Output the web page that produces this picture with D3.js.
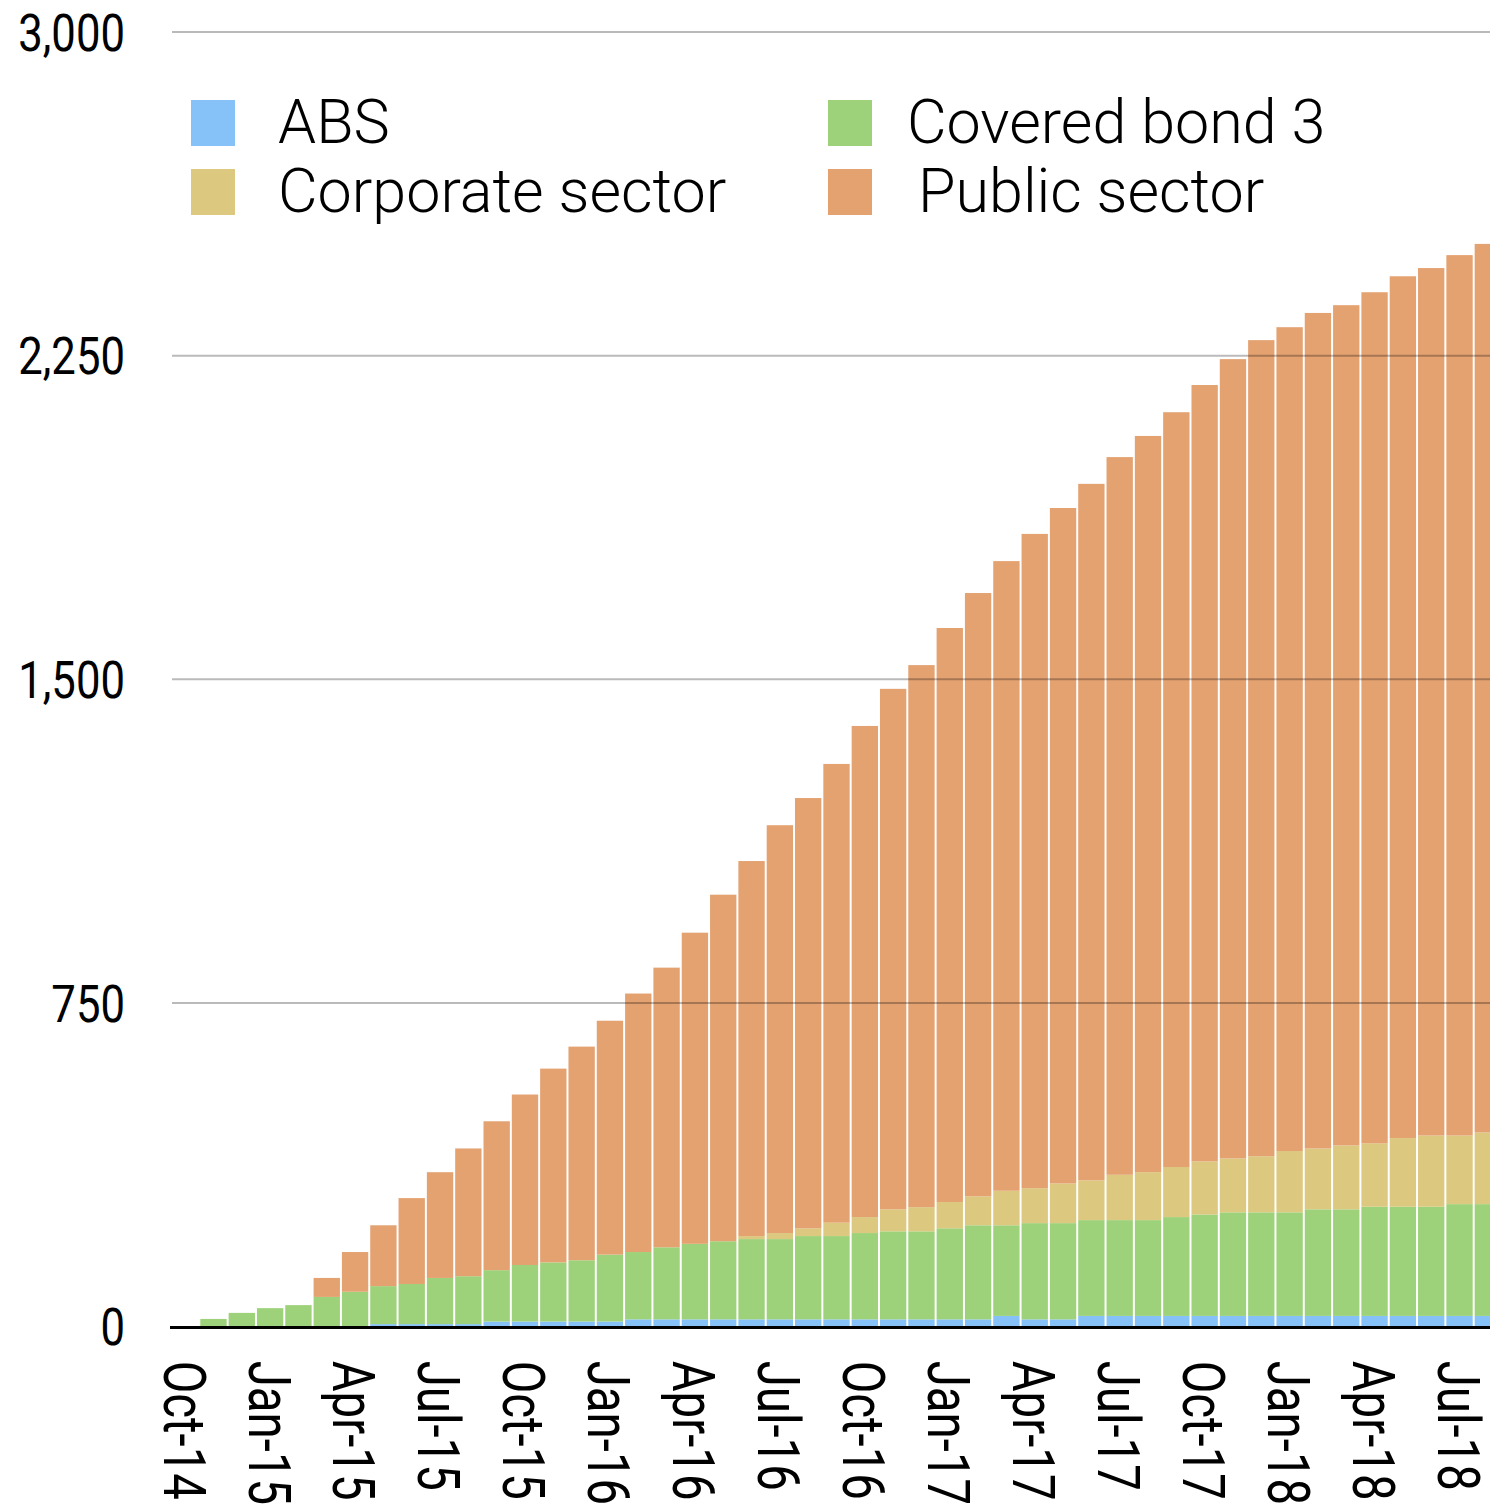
<!DOCTYPE html>
<html>
<head>
<meta charset="utf-8">
<script src="https://cdnjs.cloudflare.com/ajax/libs/d3/7.8.5/d3.min.js"></script>
<style>
body { margin: 0; background: #fff; }
svg { display: block; }
</style>
</head>
<body>
<div id="chart"></div>
<script>

var months = ["Oct-14","Nov-14","Dec-14","Jan-15","Feb-15","Mar-15","Apr-15","May-15","Jun-15","Jul-15","Aug-15","Sep-15",
	"Oct-15","Nov-15","Dec-15","Jan-16","Feb-16","Mar-16","Apr-16","May-16","Jun-16","Jul-16","Aug-16","Sep-16",
	"Oct-16","Nov-16","Dec-16","Jan-17","Feb-17","Mar-17","Apr-17","May-17","Jun-17","Jul-17","Aug-17","Sep-17",
	"Oct-17","Nov-17","Dec-17","Jan-18","Feb-18","Mar-18","Apr-18","May-18","Jun-18","Jul-18","Aug-18"]

var abs = [0,0,0,0,0,0,1,6,6,6,6,12,12,12,12,12,17,17,17,17,17,17,17,17,
	17,17,17,17,17,25,17,17,25,25,25,25,25,25,25,25,25,25,25,25,25,25,25]

var covered = [0,18,32,43,50,69,80,88,93,107,111,119,131,137,142,155,156,167,175,181,186,186,193,193,
	200,204,204,211,218,210,223,223,222,222,222,229,235,240,240,240,247,247,253,253,253,259,259]

var corporate = [0,0,0,0,0,0,0,0,0,0,0,0,0,0,0,0,0,0,0,0,7,14,18,31,
	37,51,56,61,67,80,81,92,92,105,111,116,123,125,130,142,141,148,147,159,165,159,166]

var public_sector = [0,0,0,0,0,44,92,141,199,245,296,345,395,449,495,542,599,648,721,803,869,945,997,1063,
	1138,1206,1256,1330,1398,1459,1516,1565,1614,1663,1706,1749,1799,1852,1891,1909,1936,1947,1972,1997,2010,2040,2059]

var tick_labels = ["Oct-14","Jan-15","Apr-15","Jul-15","Oct-15","Jan-16","Apr-16","Jul-16",
	"Oct-16","Jan-17","Apr-17","Jul-17","Oct-17","Jan-18","Apr-18","Jul-18"]

var y_ticks = [0, 750, 1500, 2250, 3000]

var series_names = ["ABS", "Covered bond 3", "Corporate sector", "Public sector"]
var series_colors = ["#86C1F8", "#9DD27A", "#DCC87E", "#E4A271"]


var width = 1490, height = 1508
var font = "Roboto, 'Liberation Sans', Arial, sans-serif"

var svg = d3.select("#chart")
	.append("svg")
	.attr("width", width)
	.attr("height", height)
	.style("font-family", font)

var rows = months.map(function (m, i) {
	return { month: m, "ABS": abs[i], "Covered bond 3": covered[i],
		"Corporate sector": corporate[i], "Public sector": public_sector[i] }
})

var stacked = d3.stack().keys(series_names)(rows)

// X - axis (band per month, the last one runs past the right edge)
var x_scale = d3.scaleBand()
	.domain(months)
	.range([171, 1502])
	.paddingInner(0.07)
	.paddingOuter(0.035)

// Y - axis
var y_scale = d3.scaleLinear()
	.domain([0, 3000])
	.range([1326.7, 32])

var color = d3.scaleOrdinal().domain(series_names).range(series_colors)

// bars
svg.append("g")
	.selectAll("g")
	.data(stacked)
	.enter()
	.append("g")
	.attr("fill", d => color(d.key))
	.selectAll("rect")
	.data(d => d)
	.enter()
	.append("rect")
	.attr("x", d => x_scale(d.data.month))
	.attr("width", x_scale.bandwidth())
	.attr("y", d => y_scale(d[1]))
	.attr("height", d => Math.max(0, y_scale(d[0]) - y_scale(d[1])))

// grid lines on top of the bars
svg.append("g")
	.selectAll("line")
	.data(y_ticks.filter(d => d > 0))
	.enter()
	.append("line")
	.attr("x1", 172)
	.attr("x2", width)
	.attr("y1", d => y_scale(d))
	.attr("y2", d => y_scale(d))
	.attr("stroke", "#000")
	.attr("stroke-opacity", 0.27)
	.attr("stroke-width", 2)

// zero line
svg.append("line")
	.attr("x1", 170)
	.attr("x2", width)
	.attr("y1", y_scale(0) + 0.8)
	.attr("y2", y_scale(0) + 0.8)
	.attr("stroke", "#000")
	.attr("stroke-width", 3)

// y labels
const yaxis = svg.append("g")
	.attr("transform", "translate(171,0)")
	.call(d3.axisLeft(y_scale).tickValues(y_ticks).tickSize(0).tickFormat(d3.format(",")))

yaxis.select(".domain").remove()
yaxis.selectAll("text")
	.attr("x", 0)
	.attr("dy", "0.35em")
	.attr("font-size", 52)
	.attr("font-family", font)
	.attr("font-weight", 400)
	.attr("fill", "#000")
	.attr("transform", "translate(-46,0) scale(0.84,1)")

// x labels, turned a quarter
const xaxis = svg.append("g")
	.attr("transform", "translate(0," + y_scale(0) + ")")
	.call(d3.axisBottom(x_scale).tickValues(tick_labels).tickSize(0))

xaxis.select(".domain").remove()
xaxis.selectAll("text")
	.attr("x", 0)
	.attr("y", 0)
	.attr("dy", "0.36em")
	.attr("font-size", 60)
	.attr("font-family", font)
	.attr("font-weight", 400)
	.attr("fill", "#000")
	.style("text-anchor", "start")
	.attr("transform", "translate(0,34) rotate(90) scale(0.79,1)")

// legend
var legend_pos = [[191, 100, 278], [828, 100, 907], [191, 169, 278], [828, 169, 918]]

var legend = svg.append("g")
	.selectAll("g")
	.data(series_names)
	.enter()
	.append("g")

legend.append("rect")
	.attr("x", (d, i) => legend_pos[i][0])
	.attr("y", (d, i) => legend_pos[i][1])
	.attr("width", 44)
	.attr("height", 46)
	.attr("fill", d => color(d))

legend.append("text")
	.attr("x", (d, i) => legend_pos[i][2])
	.attr("y", (d, i) => legend_pos[i][1] + 43)
	.attr("font-size", 61)
	.attr("font-weight", 300)
	.attr("fill", "#000")
	.text(d => d)

</script>
</body>
</html>
